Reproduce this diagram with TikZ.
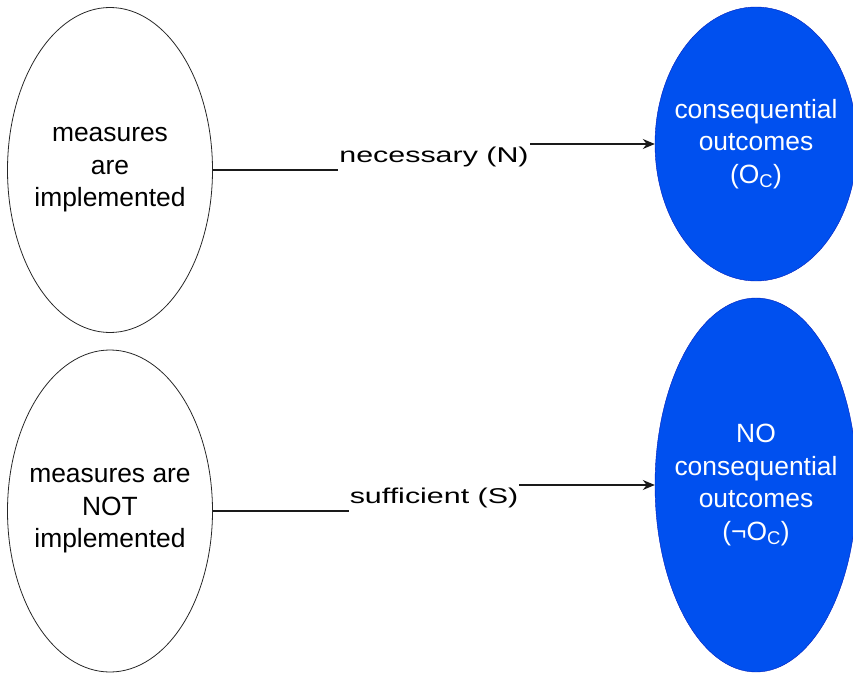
\documentclass[tikz,border=0pt]{standalone}
\usepackage{fontspec}
\setmainfont{Liberation Sans}
\usetikzlibrary{arrows.meta,%
		shapes.geometric,%
		positioning}
\definecolor{bluDrawio}{HTML}{0050EF}
\definecolor{bordoBlu}{HTML}{001DBC}
\definecolor{linea}{HTML}{1A1A1A}
\newcommand{\larga}[1]{\scalebox{1.42}[1]{#1}}

\begin{document}
\begin{tikzpicture}[x={(1bp,0bp)},y={(0bp,-1bp)},
	font=\fontsize{26.5}{32.5}\selectfont,
	causa/.style={ellipse,draw=black!85,line width=.8pt,inner xsep=-14bp,inner ysep=0pt,
		minimum width=205bp,align=center},
	esito/.style={ellipse,draw=bordoBlu,fill=bluDrawio,text=white,inner xsep=-14bp,inner ysep=0pt,
		minimum width=202bp,align=center},
	etich/.style={fill=white,inner xsep=1pt,inner ysep=6bp,font=\fontsize{21.5}{26}\selectfont},
	freccia/.style={draw=linea,line width=1.2pt,-{Stealth[length=12bp,width=10bp]}}]
\useasboundingbox (0,0) rectangle (853,673);
%le cause
\node[causa,minimum height=325bp] (mia) at(110,170){measures\\are\\implemented};
\node[causa,minimum height=322bp] (mnia) at(110,511){measures are\\NOT\\implemented};
%gli esiti
\node[esito,minimum height=274bp] (oc) at(756,144){consequential\\outcomes\\(O\textsubscript{C})};
\node[esito,minimum height=374bp] (noc) at(756,485){NO\\consequential\\outcomes\\(¬O\textsubscript{C})};
%le frecce
\coordinate (gn) at(434,157);
\coordinate (gs) at(434,498);
\draw[freccia] (mia.east) -| (gn) |- (oc.west);
\draw[freccia] (mnia.east) -| (gs) |- (noc.west);
\node[etich] (nec) at(gn){\larga{necessary (N)}};
\node[etich] (suf) at(gs){\larga{sufficient (S)}};
\end{tikzpicture}
\end{document}
